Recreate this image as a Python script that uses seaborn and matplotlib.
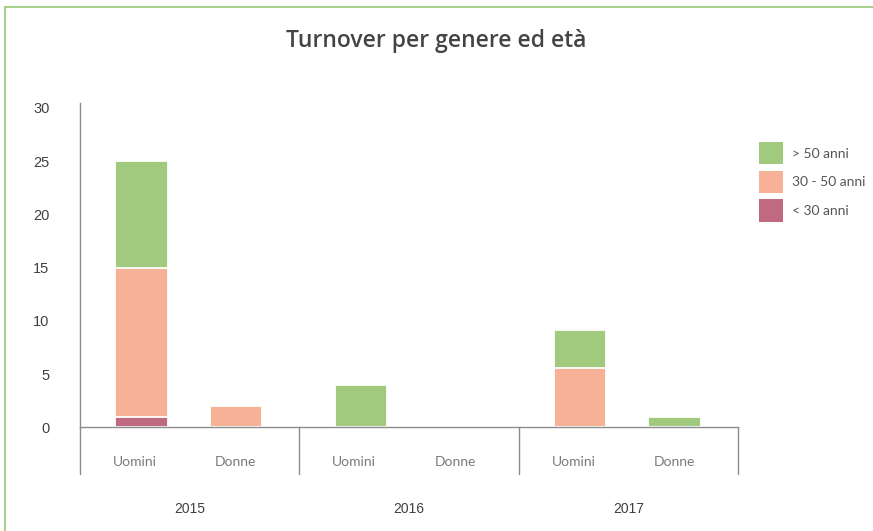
import numpy as np
import pandas as pd
import matplotlib
matplotlib.use("Agg")
import matplotlib.pyplot as plt
from matplotlib.patches import Patch, Rectangle
import seaborn as sns

# Data
years = ["2015", "2016", "2017"]
genders = ["Uomini", "Donne"]
under_30 = [1, 0, 0, 0, 0, 0]
from_30_to_50 = [14, 2, 0, 0, 5.6, 0]
over_50 = [10, 0, 4, 0, 3.55, 1]
age_labels = ["> 50 anni", "30 - 50 anni", "< 30 anni"]

colors = {"> 50 anni": "#a1ca7f", "30 - 50 anni": "#f6b196", "< 30 anni": "#bf6a80"}

sns.set_theme(style="white")
plt.rcParams["font.family"] = ["Lato", "DejaVu Sans"]

# bar positions: one unit per year group
offsets = [0.28, 0.71]
pos = [g + offsets[i] for g in range(len(years)) for i in range(len(genders))]

df = pd.DataFrame({"pos": pos, "u30": under_30, "m30": from_30_to_50, "o50": over_50})
df["mid"] = df["u30"] + df["m30"]
df["top"] = df["mid"] + df["o50"]

fig = plt.figure(figsize=(8.73, 5.31), dpi=100)
ax = fig.add_axes([80 / 873, 1 - 427.3 / 531, 658 / 873, (427.3 - 102.7) / 531])

bw = 0.555
for col, lab in [("top", "> 50 anni"), ("mid", "30 - 50 anni"), ("u30", "< 30 anni")]:
    sns.barplot(data=df, x="pos", y=col, native_scale=True, color=colors[lab],
                width=bw, saturation=1, edgecolor="white", linewidth=1.3, ax=ax)

ax.set_xlim(0, 3)
ax.set_ylim(0, 30.48)
ax.set_yticks(range(0, 31, 5))
ax.set_xticks([])
ax.set_xlabel("")
ax.set_ylabel("")
ax.tick_params(axis="y", length=0, pad=22, labelsize=10.5, labelcolor="#404040")
for t in ax.get_yticklabels():
    t.set_fontfamily("Liberation Sans")
for s in ["top", "right"]:
    ax.spines[s].set_visible(False)
for s in ["left", "bottom"]:
    ax.spines[s].set_color("#8c8c8c")
    ax.spines[s].set_linewidth(1)

# multi-level category axis
trans = ax.get_xaxis_transform()
for g in range(len(years) + 1):
    ax.plot([g, g], [0, -46.7 / 324.6], transform=trans, color="#8c8c8c",
            lw=1, clip_on=False)
for g, yr in enumerate(years):
    for i, gen in enumerate(genders):
        ax.text(g + offsets[i] - (0.03 if i == 0 else 0), -35 / 324.6, gen,
                transform=trans, ha="center", va="center", fontsize=10,
                color="#7a7a7a")
    ax.text(g + 0.5, -82 / 324.6, yr, transform=trans, ha="center", va="center",
            fontsize=10, color="#404040", family="Liberation Sans")

fig.text(436 / 873, 1 - 41 / 531, "Turnover per genere ed età", ha="center",
         va="center", fontsize=16.5, fontweight="semibold", color="#444444",
         family=["Open Sans", "DejaVu Sans"])

handles = [Patch(facecolor=colors[l], edgecolor="none") for l in age_labels]
fig.legend(handles, age_labels, loc="upper left",
           bbox_to_anchor=(759 / 873, 1 - 142 / 531), frameon=False,
           fontsize=10, handlelength=1.73, handleheight=2.1, labelspacing=0.45,
           handletextpad=0.65, borderpad=0, borderaxespad=0, labelcolor="#555555")

# green frame at the top and left
fig.add_artist(Rectangle((5 / 873, -0.1), 1.1, 1.1 - 6.5 / 531, transform=fig.transFigure,
                         fill=False, edgecolor="#a9d18e", lw=1.5))

fig.savefig("out.png", dpi=100)
